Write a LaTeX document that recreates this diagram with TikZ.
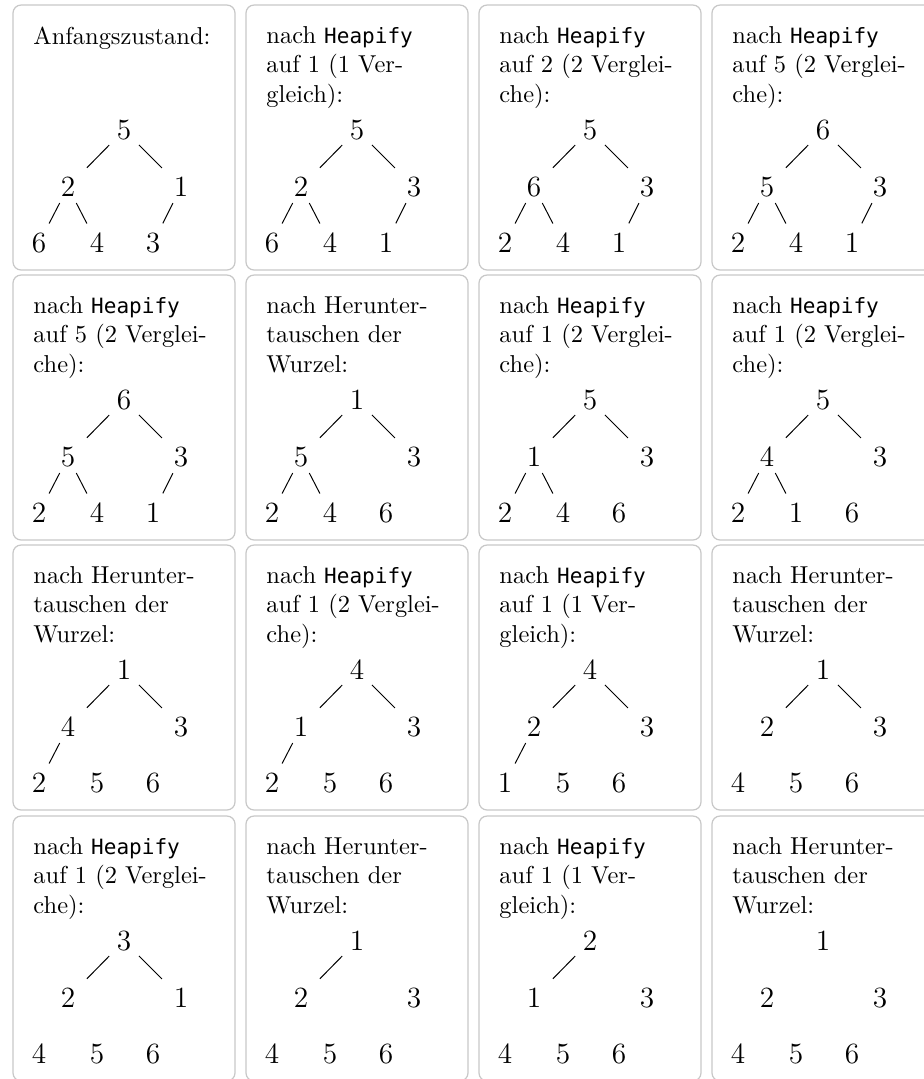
\documentclass[tikz,border=0pt]{standalone}
\usepackage{fontspec}
\setmonofont{DejaVu Sans Mono}[Scale=0.86]
\usepackage{tikz}
\usetikzlibrary{positioning}
\definecolor{boxline}{HTML}{C8C8C8}
% titles of the single steps
\newcommand{\einV}[1]{nach \texttt{Heapify}\\auf #1 (1 Ver-\\gleich):}
\newcommand{\zweiV}[1]{nach \texttt{Heapify}\\auf #1 (2 Verglei-\\che):}
\newcommand{\runter}{nach Herunter-\\tauschen der\\Wurzel:}
% one cell: prefix, title, six keys, number of edges
\newcommand{\heapcell}[9]{%
  \draw[cellbox] (0,0) rectangle (222,265);
  \node[titlebox] (#1t) at (20,21) {#2};
  \node[key] (#1a) at (111,125) {#3};
  \node[key] (#1b) at (55,182) {#4};
  \node[key] (#1c) at (168,182) {#5};
  \node[key] (#1d) at (26,238) {#6};
  \node[key] (#1e) at (84,238) {#7};
  \node[key] (#1f) at (140,238) {#8};
  \foreach \u/\v/\s/\t [count=\i] in {a/b/8.6/11,a/c/8.6/11,b/d/7.4/9,b/e/7.4/9,c/f/7.4/9}
    {\ifnum\i>#9\relax\else\draw[edge, shorten <=\s pt, shorten >=\t pt] (#1\u.center) -- (#1\v.center);\fi}
}

\begin{document}
\begin{tikzpicture}[x=0.4088pt, y=-0.4088pt,
  cellbox/.style={draw=boxline, line width=0.5pt, rounded corners=3.3pt, fill=white},
  titlebox/.style={anchor=north west, inner sep=0pt, align=left, font=\normalsize},
  key/.style={inner sep=0pt, font=\large},
  edge/.style={draw=black, line width=0.4pt}]
\useasboundingbox (0,0) rectangle (924,1079);
\clip (0,0) rectangle (924,1079);
% first row
\begin{scope}[shift={(13,5)}]\heapcell{pa}{Anfangszustand:}{5}{2}{1}{6}{4}{3}{5}\end{scope}
\begin{scope}[shift={(246,5)}]\heapcell{pb}{\einV{1}}{5}{2}{3}{6}{4}{1}{5}\end{scope}
\begin{scope}[shift={(479,5)}]\heapcell{pc}{\zweiV{2}}{5}{6}{3}{2}{4}{1}{5}\end{scope}
\begin{scope}[shift={(712,5)}]\heapcell{pd}{\zweiV{5}}{6}{5}{3}{2}{4}{1}{5}\end{scope}
% second row
\begin{scope}[shift={(13,275)}]\heapcell{qa}{\zweiV{5}}{6}{5}{3}{2}{4}{1}{5}\end{scope}
\begin{scope}[shift={(246,275)}]\heapcell{qb}{\runter}{1}{5}{3}{2}{4}{6}{4}\end{scope}
\begin{scope}[shift={(479,275)}]\heapcell{qc}{\zweiV{1}}{5}{1}{3}{2}{4}{6}{4}\end{scope}
\begin{scope}[shift={(712,275)}]\heapcell{qd}{\zweiV{1}}{5}{4}{3}{2}{1}{6}{4}\end{scope}
% third row
\begin{scope}[shift={(13,545)}]\heapcell{ra}{\runter}{1}{4}{3}{2}{5}{6}{3}\end{scope}
\begin{scope}[shift={(246,545)}]\heapcell{rb}{\zweiV{1}}{4}{1}{3}{2}{5}{6}{3}\end{scope}
\begin{scope}[shift={(479,545)}]\heapcell{rc}{\einV{1}}{4}{2}{3}{1}{5}{6}{3}\end{scope}
\begin{scope}[shift={(712,545)}]\heapcell{rd}{\runter}{1}{2}{3}{4}{5}{6}{2}\end{scope}
% fourth row
\begin{scope}[shift={(13,816)}]\heapcell{sa}{\zweiV{1}}{3}{2}{1}{4}{5}{6}{2}\end{scope}
\begin{scope}[shift={(246,816)}]\heapcell{sb}{\runter}{1}{2}{3}{4}{5}{6}{1}\end{scope}
\begin{scope}[shift={(479,816)}]\heapcell{sc}{\einV{1}}{2}{1}{3}{4}{5}{6}{1}\end{scope}
\begin{scope}[shift={(712,816)}]\heapcell{sd}{\runter}{1}{2}{3}{4}{5}{6}{0}\end{scope}
\end{tikzpicture}
\end{document}
